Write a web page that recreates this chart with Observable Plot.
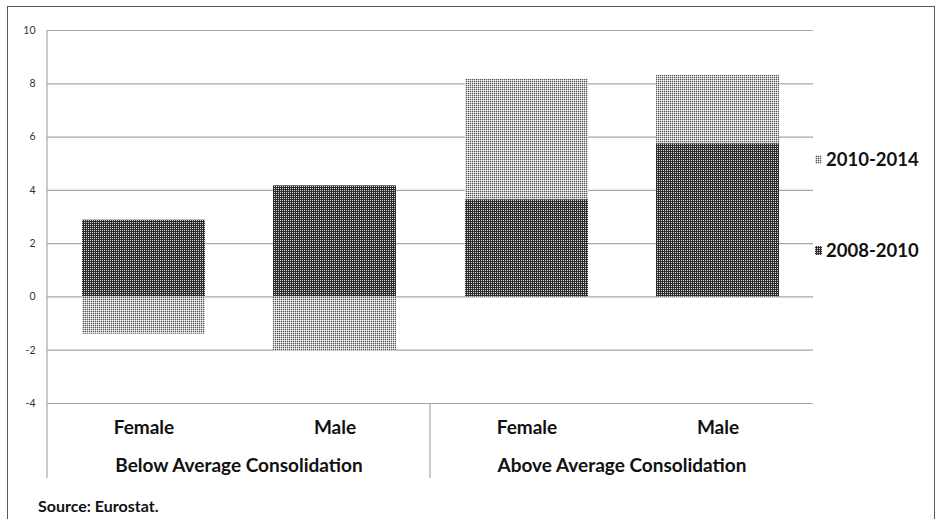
<!DOCTYPE html>
<html>
<head>
<meta charset="utf-8">
<script src="https://cdn.jsdelivr.net/npm/d3@7"></script>
<script src="https://cdn.jsdelivr.net/npm/@observablehq/plot@0.6"></script>
<style>
  html, body { margin: 0; padding: 0; background: #fff; }
  #wrap { position: relative; width: 948px; height: 519px; overflow: hidden; font-family: Lato, "Open Sans", sans-serif; }
  #frame { position: absolute; left: 7px; top: 6px; width: 928px; height: 530px; border: 1px solid #5a5a5a; box-sizing: border-box; pointer-events: none; }
  #chart { position: absolute; left: 0; top: 0; }
  .legend { position: absolute; left: 815px; font-weight: bold; font-size: 18.5px; line-height: 22px; color: #111; display: flex; align-items: center; gap: 3px; }
  .legend svg { display: block; }
  #source { position: absolute; left: 38px; top: 496px; font-weight: bold; font-size: 16px; line-height: 20px; color: #111; }
</style>
</head>
<body>
<div id="wrap">
  <div id="chart"></div>
  <div id="frame"></div>
  <div class="legend" id="leg-late" style="top:148px"></div>
  <div class="legend" id="leg-early" style="top:239px"></div>
  <div id="source">Source: Eurostat.</div>
</div>
<script>
// Change in employment rate by sex, grouped by degree of fiscal consolidation
const groups = ["Below Average Consolidation", "Above Average Consolidation"];
const sexes = ["Female", "Male"];
const periods = ["2008-2010", "2010-2014"];
// order: Below/Female, Below/Male, Above/Female, Above/Male
const groupOf = [groups[0], groups[0], groups[1], groups[1]];
const sexOf = ["Female", "Male", "Female", "Male"];
const change2008_2010 = [2.88, 4.17, 3.65, 5.75];
const change2010_2014 = [-1.40, -2.03, 4.52, 2.57];
const yTicks = [-4, -2, 0, 2, 4, 6, 8, 10];

const rows = [];
change2008_2010.forEach((v, i) => rows.push({group: groupOf[i], sex: sexOf[i], period: periods[0], value: v}));
change2010_2014.forEach((v, i) => rows.push({group: groupOf[i], sex: sexOf[i], period: periods[1], value: v}));

const gridColor = "#a8a8a8";

const plot = Plot.plot({
  width: 948,
  height: 519,
  marginLeft: 47,
  marginRight: 135,
  marginTop: 30,
  marginBottom: 116,
  style: {fontFamily: "Lato, 'Open Sans', sans-serif", color: "#111", background: "transparent"},
  fx: {domain: groups, padding: 0, label: null},
  x: {domain: sexes, paddingInner: 0.358, paddingOuter: 0.179, label: null},
  y: {domain: [-4, 10], ticks: yTicks, label: null},
  color: {type: "ordinal", domain: periods, range: ["url(#pat-dark)", "url(#pat-light)"]},
  marks: [
    Plot.gridY(yTicks, {stroke: gridColor, strokeOpacity: 1, strokeWidth: 1.2}),
    Plot.barY(rows, {fx: "group", x: "sex", y: "value", fill: "period"}),
    Plot.axisY(yTicks, {tickSize: 0, tickPadding: 12, fontSize: 10.5, fill: "#333", tickFormat: d => String(d)}),
    Plot.axisX({tickSize: 0, tickPadding: 17, fontSize: 19, fontWeight: "bold", fill: "#111"}),
    Plot.axisFx({anchor: "bottom", tickSize: 0, tickPadding: 55, fontSize: 19, fontWeight: "bold", fill: "#111", label: null})
  ]
});

// Dot-screen patterns for the two periods
const svg = d3.select(plot);
const defs = svg.insert("defs", ":first-child");
function pattern(id, cells) {
  const p = defs.append("pattern").attr("id", id).attr("patternUnits", "userSpaceOnUse")
    .attr("width", 2).attr("height", 2);
  cells.forEach(([x, y, c]) => p.append("rect").attr("x", x).attr("y", y).attr("width", 1).attr("height", 1).attr("fill", c));
}
pattern("pat-dark", [[0, 0, "#d6d6d6"], [1, 0, "#2a2a2a"], [0, 1, "#323232"], [1, 1, "#2a2a2a"]]);
pattern("pat-light", [[0, 0, "#ffffff"], [1, 0, "#c4c4c4"], [0, 1, "#c4c4c4"], [1, 1, "#555555"]]);

// Axis line on the left and the separator between the two groups, running down through the labels
const fx = plot.scale("fx");
const y = plot.scale("y");
const xLeft = fx.range[0];
const xMid = fx.apply(groups[1]);
const yTop = y.apply(d3.max(yTicks));
const yBottom = y.apply(d3.min(yTicks));
const labelDepth = 75;
const lines = svg.append("g").attr("stroke", gridColor).attr("stroke-width", 1.2);
lines.append("line").attr("x1", xLeft).attr("x2", xLeft).attr("y1", yTop).attr("y2", yBottom + labelDepth);
lines.append("line").attr("x1", xMid).attr("x2", xMid).attr("y1", yBottom).attr("y2", yBottom + labelDepth);

document.getElementById("chart").appendChild(plot);

// Legend entries
function legend(elId, period, pat) {
  const el = d3.select("#" + elId);
  const s = el.append("svg").attr("width", 8).attr("height", 9);
  s.append("rect").attr("width", 7).attr("height", 9).attr("fill", `url(#${pat})`);
  el.append("span").text(period);
}
legend("leg-late", periods[1], "pat-light");
legend("leg-early", periods[0], "pat-dark");
</script>
</body>
</html>
